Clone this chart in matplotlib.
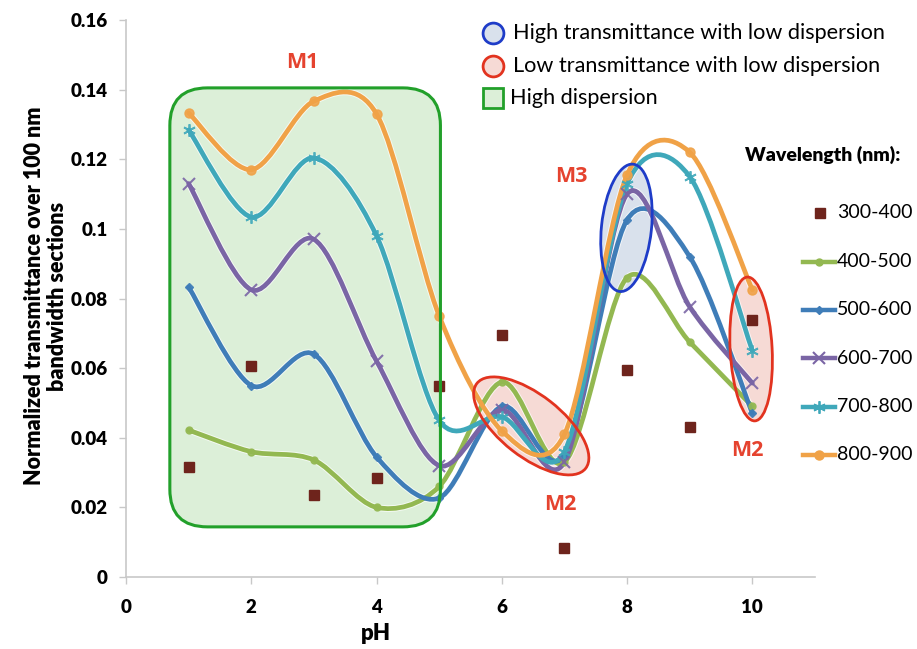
import numpy as np
import matplotlib
matplotlib.use("Agg")
import matplotlib.pyplot as plt
from matplotlib.path import Path
from matplotlib.patches import PathPatch, Ellipse, FancyBboxPatch
from matplotlib.lines import Line2D
import matplotlib.transforms as mtransforms

plt.rcParams['font.family'] = ['Lato', 'DejaVu Sans']

# ---------------- data ----------------
ph = [1, 2, 3, 4, 5, 6, 7, 8, 9, 10]
series_labels = ["300-400", "400-500", "500-600", "600-700", "700-800", "800-900"]
v300 = [0.0316, 0.0606, 0.0236, 0.0284, 0.0550, 0.0695, 0.0083, 0.0595, 0.0430, 0.0738]
v400 = [0.0422, 0.0360, 0.0336, 0.0200, 0.0260, 0.0560, 0.0330, 0.0860, 0.0675, 0.0490]
v500 = [0.0833, 0.0550, 0.0640, 0.0345, 0.0227, 0.0490, 0.0350, 0.1026, 0.0920, 0.0470]
v600 = [0.1130, 0.0825, 0.0970, 0.0620, 0.0320, 0.0480, 0.0330, 0.1100, 0.0776, 0.0557]
v700 = [0.1284, 0.1034, 0.1204, 0.0980, 0.0450, 0.0460, 0.0360, 0.1130, 0.1150, 0.0650]
v800 = [0.1333, 0.1170, 0.1367, 0.1330, 0.0750, 0.0420, 0.0410, 0.1155, 0.1220, 0.0825]
x_ticks = [0, 2, 4, 6, 8, 10]
y_ticks = [0, 0.02, 0.04, 0.06, 0.08, 0.10, 0.12, 0.14, 0.16]
y_tick_labels = ["0", "0.02", "0.04", "0.06", "0.08", "0.1", "0.12", "0.14", "0.16"]

# annotation regions (data units)
m1_box = (0.70, 0.0144, 5.02, 0.1405)          # x0, y0, x1, y1
blue_ell = (7.99, 0.1003)                       # centre
red_ell1 = (6.47, 0.0434)
red_ell2 = (9.98, 0.0655)

# ---------------- styling ----------------
W, H = 917, 649
fig = plt.figure(figsize=(W / 100, H / 100), dpi=100)
ax = fig.add_axes([126 / W, 1 - 577 / H, (815 - 126) / W, (577 - 20) / H])
ax.set_xlim(0, 11)
ax.set_ylim(0, 0.16)

def pxf(x, y):
    return (x / W, 1 - y / H)

colors = {
    "300-400": "#6E241C",
    "400-500": "#93B851",
    "500-600": "#3F7DB8",
    "600-700": "#7A65A5",
    "700-800": "#3FA8BA",
    "800-900": "#F0A247",
}
markers = {
    "400-500": dict(marker="o", ms=5),
    "500-600": dict(marker="D", ms=4.5),
    "600-700": dict(marker="x", ms=8, mew=1.5),
    "700-800": dict(marker=(6, 2, 0), ms=9, mew=1.3),
    "800-900": dict(marker="o", ms=6.5),
}

def smooth_path(xs, ys, k=6.5):
    P = np.column_stack([xs, ys]).astype(float)
    n = len(P)
    verts = [P[0]]
    codes = [Path.MOVETO]
    for i in range(n - 1):
        p0 = P[i - 1] if i > 0 else P[i]
        p1 = P[i]
        p2 = P[i + 1]
        p3 = P[i + 2] if i + 2 < n else P[i + 1]
        c1 = p1 + (p2 - p0) / k
        c2 = p2 - (p3 - p1) / k
        verts += [c1, c2, p2]
        codes += [Path.CURVE4] * 3
    return Path(verts, codes)

# green M1 box (fill behind)
x0, y0, x1, y1 = m1_box
aspect = (0.16 / 557) / (11 / 689)
box = FancyBboxPatch((x0, y0), x1 - x0, y1 - y0,
                     boxstyle="round,pad=0,rounding_size=0.6",
                     mutation_aspect=aspect, facecolor="#DCEFD8",
                     edgecolor="none", zorder=0.5)
ax.add_patch(box)

def ell_transform(c):
    return fig.dpi_scale_trans + mtransforms.ScaledTranslation(c[0], c[1], ax.transData)

ell_specs = [
    (blue_ell, 50, 128, -6, "#D9E1EC", "#1E3CC8"),
    (red_ell1, 138, 62, -38, "#F6DAD5", "#E2331F"),
    (red_ell2, 42, 144, 3, "#F6DAD5", "#E2331F"),
]
for c, w, h, ang, fc, ec in ell_specs:
    ax.add_patch(Ellipse((0, 0), w / 100, h / 100, angle=ang, facecolor=fc,
                         edgecolor="none", transform=ell_transform(c), zorder=0.6))

# lines
vals = {"400-500": v400, "500-600": v500, "600-700": v600, "700-800": v700, "800-900": v800}
for k in ["400-500", "500-600", "600-700", "700-800", "800-900"]:
    path = smooth_path(ph, vals[k])
    ax.add_patch(PathPatch(path, facecolor="none", edgecolor="white", lw=4.8, alpha=0.7, zorder=2))
    ax.add_patch(PathPatch(path, facecolor="none", edgecolor=colors[k], lw=3.4,
                           capstyle="round", zorder=2.1))
    m = markers[k]
    ax.plot(ph, vals[k], ls="none", color=colors[k], mec=colors[k], zorder=2.2,
            alpha=0.9, **m)

ax.plot(ph, v300, ls="none", marker="s", ms=7.5, color=colors["300-400"], zorder=3)

# outlines on top
box2 = FancyBboxPatch((x0, y0), x1 - x0, y1 - y0,
                      boxstyle="round,pad=0,rounding_size=0.6",
                      mutation_aspect=aspect, facecolor="none",
                      edgecolor="#22A02A", lw=2.2, zorder=4)
ax.add_patch(box2)
for c, w, h, ang, fc, ec in ell_specs:
    ax.add_patch(Ellipse((0, 0), w / 100, h / 100, angle=ang, facecolor="none",
                         edgecolor=ec, lw=2.0, transform=ell_transform(c), zorder=4))

# axes styling
for s in ["top", "right"]:
    ax.spines[s].set_visible(False)
for s in ["left", "bottom"]:
    ax.spines[s].set_color("#C8C8C8")
    ax.spines[s].set_linewidth(1.2)
ax.set_xticks(x_ticks)
ax.set_yticks(y_ticks)
ax.set_yticklabels(y_tick_labels)
ax.tick_params(axis="both", colors="#C8C8C8", length=5, width=1.0, labelsize=13.5,
               labelcolor="black", pad=8)
for lab in ax.get_xticklabels() + ax.get_yticklabels():
    lab.set_fontweight("heavy")
ax.tick_params(axis="x", pad=11)

fig.text(*pxf(376, 634), "pH", ha="center", va="center", fontsize=16, fontweight="heavy")
fig.text(*pxf(46, 296), "Normalized transmittance over 100 nm\nbandwidth sections",
         ha="center", va="center", rotation=90, fontsize=15.5, fontweight="heavy",
         linespacing=1.15)

# region labels
red_txt = "#E5432F"
for (x, y), t in [((302, 62), "M1"), ((571, 177), "M3"), ((560, 505), "M2"), ((747, 450), "M2")]:
    fig.text(*pxf(x, y), t, ha="center", va="center", fontsize=15.5, fontweight="bold",
             color=red_txt, family=["Open Sans", "DejaVu Sans"])

# top legend
top_items = [
    (33, "o", "#D9E1EC", "#1E3CC8", "High transmittance with low dispersion", 513),
    (66, "o", "#F6DAD5", "#E2331F", "Low transmittance with low dispersion", 513),
    (98, "s", "#DCEFD8", "#22A02A", "High dispersion", 510),
]
for y, mk, fc, ec, label, tx in top_items:
    fig.add_artist(Line2D([493 / W], [1 - y / H], marker=mk, ms=15, mfc=fc, mec=ec, mew=2,
                          ls="none", transform=fig.transFigure))
    fig.text(*pxf(tx, y), label, ha="left", va="center", fontsize=15.6)

# right legend
fig.text(*pxf(745, 155), "Wavelength (nm):", ha="left", va="center", fontsize=14, fontweight="heavy")
leg_y = [213, 262, 310, 358, 407, 455]
for lab, y in zip(series_labels, leg_y):
    yy = 1 - y / H
    if lab == "300-400":
        fig.add_artist(Line2D([820 / W], [yy], marker="s", ms=7.5, color=colors[lab], ls="none",
                              transform=fig.transFigure))
    else:
        m = markers[lab]
        fig.add_artist(Line2D([803 / W, 835 / W], [yy, yy], color=colors[lab], lw=3.2,
                              transform=fig.transFigure))
        fig.add_artist(Line2D([819 / W], [yy], ls="none", color=colors[lab], mec=colors[lab],
                              transform=fig.transFigure, **m))
    fig.text(*pxf(837, y), lab, ha="left", va="center", fontsize=14)

fig.savefig("out.png", dpi=100)
